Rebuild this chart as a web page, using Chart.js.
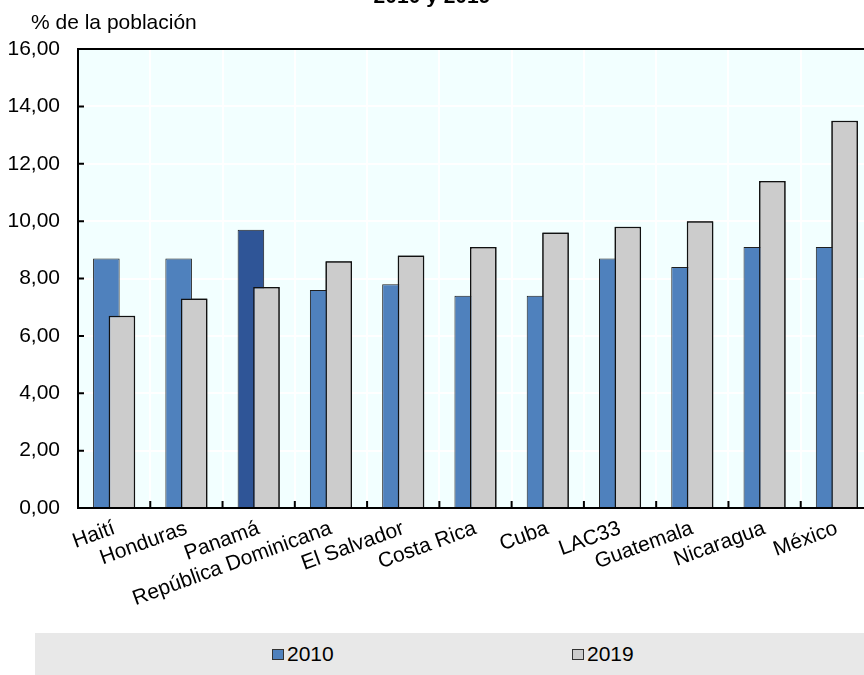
<!DOCTYPE html>
<html lang="es">
<head>
<meta charset="utf-8">
<title>2010 y 2019</title>
<script src="https://cdn.jsdelivr.net/npm/chart.js@4.4.0/dist/chart.umd.min.js"></script>
<style>
    html, body { margin: 0; padding: 0; background: #fff; overflow: hidden; }
    #wrap { position: relative; width: 864px; height: 675px; overflow: hidden; }
    #chart { position: absolute; left: 0; top: 0; }
    #legend {
        position: absolute; left: 35px; top: 633px; width: 829px; height: 42px;
        background: #e8e8e8;
        font-family: "Liberation Sans", Arial, sans-serif; font-size: 21px; color: #000;
    }
    .item { position: absolute; top: 9px; display: flex; align-items: center; line-height: 24px; }
    .swatch { width: 12px; height: 11px; box-sizing: border-box; border: 1px solid #333; margin-right: 3px; }
</style>
</head>
<body>
<div id="wrap">
    <canvas id="chart" width="873" height="675"></canvas>
    <div id="legend"></div>
</div>
<script>
// Data
const categorias = ['Haití', 'Honduras', 'Panamá', 'República Dominicana', 'El Salvador',
    'Costa Rica', 'Cuba', 'LAC33', 'Guatemala', 'Nicaragua', 'México'];
const valores2010 = [8.7, 8.7, 9.7, 7.6, 7.8, 7.4, 7.4, 8.7, 8.4, 9.1, 9.1];
const valores2019 = [6.7, 7.3, 7.7, 8.6, 8.8, 9.1, 9.6, 9.8, 10.0, 11.4, 13.5];
const series = ['2010', '2019'];
const ejeY = { min: 0, max: 16, step: 2 };
const titulo = '2010 y 2019';
const etiquetaEje = '% de la población';
const destacado = 'Panamá';

const FONT = '"Liberation Sans", Arial, sans-serif';
const AZUL = '#4f81bd';
const AZUL_OSCURO = '#2f5597';
const GRIS = '#cccccc';

Chart.defaults.font.family = FONT;
Chart.defaults.color = '#000';

const coloresAzul = categorias.map(c => c === destacado ? AZUL_OSCURO : AZUL);

// plot background, overlap order, top frame line, inner tick marks, title and axis caption
const decoracion = {
    id: 'decoracion',
    beforeDraw(chart) {
        const { ctx, chartArea: a } = chart;
        ctx.save();
        ctx.fillStyle = '#f2ffff';
        ctx.fillRect(a.left, a.top, a.right - a.left, a.bottom - a.top);
        ctx.restore();
    },
    afterDatasetsDraw(chart) {
        const { ctx, chartArea: a, scales } = chart;
        // the 2019 bars overlap the 2010 bars: draw them again so they end up on top
        chart.getDatasetMeta(1).controller.draw();

        ctx.save();
        ctx.strokeStyle = '#000';
        ctx.lineWidth = 2;
        ctx.beginPath();
        ctx.moveTo(a.left - 1, a.top);
        ctx.lineTo(a.right, a.top);
        // y ticks pointing inwards
        scales.y.ticks.forEach(t => {
            const y = scales.y.getPixelForValue(t.value);
            ctx.moveTo(a.left, y);
            ctx.lineTo(a.left + 6, y);
        });
        // x ticks between categories, pointing up
        for (let i = 0; i <= categorias.length; i++) {
            const x = scales.x.getPixelForValue(i - 0.5);
            ctx.moveTo(x, a.bottom);
            ctx.lineTo(x, a.bottom - 7);
        }
        ctx.stroke();

        ctx.fillStyle = '#000';
        ctx.textBaseline = 'alphabetic';
        ctx.font = 'bold 21px ' + FONT;
        ctx.textAlign = 'center';
        ctx.fillText(titulo, 432, 3);
        ctx.font = '21px ' + FONT;
        ctx.textAlign = 'left';
        ctx.fillText(etiquetaEje, 31, 29);
        ctx.restore();
    }
};

const chart = new Chart(document.getElementById('chart'), {
    type: 'bar',
    data: {
        labels: categorias,
        datasets: [
            {
                label: series[0], data: valores2010,
                backgroundColor: coloresAzul, borderColor: '#1f1f1f', borderWidth: 1
            },
            {
                label: series[1], data: valores2019,
                backgroundColor: GRIS, borderColor: '#111', borderWidth: 1.5
            }
        ]
    },
    options: {
        responsive: false,
        animation: false,
        layout: { padding: { top: 49, left: 0, right: 0, bottom: 0 } },
        datasets: {
            bar: { categoryPercentage: 0.43, barPercentage: 1.71 }
        },
        plugins: {
            legend: { display: false },
            tooltip: { enabled: false }
        },
        scales: {
            x: {
                offset: true,
                grid: { color: '#ffffff', lineWidth: 2, drawTicks: false, offset: true },
                border: { color: '#000', width: 2 },
                ticks: {
                    font: { size: 21 }, color: '#000',
                    minRotation: 20, maxRotation: 20, autoSkip: false, padding: 8
                },
                afterFit(scale) { scale.height = 167; }
            },
            y: {
                min: ejeY.min, max: ejeY.max,
                grid: { color: '#ffffff', lineWidth: 2, drawTicks: false },
                border: { color: '#000', width: 2 },
                ticks: {
                    stepSize: ejeY.step, padding: 18, font: { size: 21 }, color: '#000',
                    callback: v => v.toFixed(2).replace('.', ',')
                },
                afterFit(scale) { scale.width = 78; }
            }
        }
    },
    plugins: [decoracion]
});

// legend built from the datasets
const posiciones = [237, 537];
const leyenda = document.getElementById('legend');
chart.data.datasets.forEach((d, i) => {
    const item = document.createElement('div');
    item.className = 'item';
    item.style.left = posiciones[i] + 'px';
    const sw = document.createElement('span');
    sw.className = 'swatch';
    sw.style.background = Array.isArray(d.backgroundColor) ? AZUL : d.backgroundColor;
    const txt = document.createElement('span');
    txt.textContent = d.label;
    item.appendChild(sw);
    item.appendChild(txt);
    leyenda.appendChild(item);
});
</script>
</body>
</html>
